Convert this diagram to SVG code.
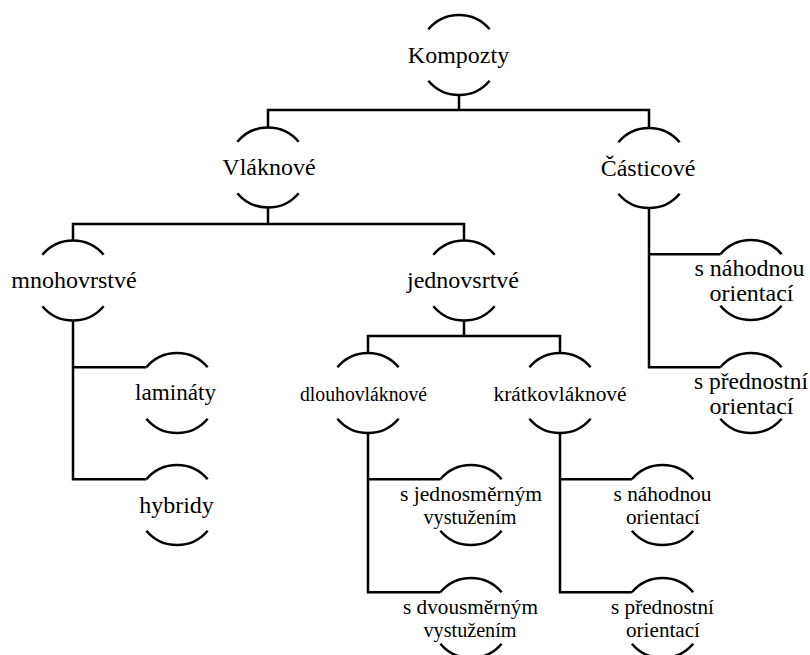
<svg xmlns="http://www.w3.org/2000/svg" width="810" height="655" viewBox="0 0 810 655">
<style>
.arc{fill:none;stroke:#000;stroke-width:2.5}
.con{fill:none;stroke:#000;stroke-width:2.5;stroke-linejoin:miter}
.lbl text{fill:#000;text-anchor:middle;font-family:"Liberation Serif","Times New Roman",serif}
.b{font-size:24px}
.s{font-size:20.5px}
</style>
<defs>
<path id="arcs" d="M-30.64,-25.71 A40,40 0 0 1 30.64,-25.71 M-30.64,25.71 A40,40 0 0 0 30.64,25.71"/>
</defs>
<rect width="810" height="655" fill="#fff"/>
<g id="connectors" class="con">
<path d="M459,95 V110"/>
<path d="M268,127.5 V110 H649 V128.5"/>
<path d="M268,207.5 V224"/>
<path d="M73,240.5 V224 H464 V240.5"/>
<path d="M464,320 V336"/>
<path d="M368,353.5 V336 H560 V353.5"/>
<path d="M73,320 V479.3 H146.4 M73,367.3 H146.4"/>
<path d="M649,208 V367.3 H720.4 M649,254.3 H720.4"/>
<path d="M368,433 V592.3 H440.4 M368,479.3 H440.4"/>
<path d="M560,433 V592.3 H631.9 M560,479.3 H631.9"/>
</g>
<g class="lbl">
<g id="kompozty"><use href="#arcs" class="arc" x="459" y="55"/><text class="b" x="458.5" y="63">Kompozty</text></g>
<g id="vlaknove"><use href="#arcs" class="arc" x="268" y="167.5"/><text class="b" x="269" y="175">Vláknové</text></g>
<g id="casticove"><use href="#arcs" class="arc" x="649" y="168"/><text class="b" x="648" y="175.5">Částicové</text></g>
<g id="mnohovrstve"><use href="#arcs" class="arc" x="73" y="280.5"/><text class="b" x="74" y="287.5">mnohovrstvé</text></g>
<g id="jednovsrtve"><use href="#arcs" class="arc" x="464" y="280.5"/><text class="b" x="463" y="287.5">jednovsrtvé</text></g>
<g id="laminaty"><use href="#arcs" class="arc" x="177" y="393"/><text class="b" x="175.5" y="400" textLength="81" lengthAdjust="spacingAndGlyphs">lamináty</text></g>
<g id="hybridy"><use href="#arcs" class="arc" x="177" y="505"/><text class="b" x="176.5" y="512.5">hybridy</text></g>
<g id="dlouhovlaknove"><use href="#arcs" class="arc" x="368" y="393"/><text class="s" x="363.5" y="400.5" textLength="127" lengthAdjust="spacingAndGlyphs">dlouhovláknové</text></g>
<g id="kratkovlaknove"><use href="#arcs" class="arc" x="560" y="393"/><text class="s" x="560" y="400.5" textLength="133" lengthAdjust="spacingAndGlyphs">krátkovláknové</text></g>
<g id="c-nahodnou"><use href="#arcs" class="arc" x="751" y="280"/><text class="b" x="749.5" y="275.5">s náhodnou</text><text class="b" x="751.5" y="300.5">orientací</text></g>
<g id="c-prednostni"><use href="#arcs" class="arc" x="751" y="393"/><text class="b" x="751" y="388.5" textLength="114" lengthAdjust="spacingAndGlyphs">s přednostní</text><text class="b" x="751.5" y="413.5">orientací</text></g>
<g id="jednosmernym"><use href="#arcs" class="arc" x="471" y="505"/><text class="s" x="471" y="501" textLength="142" lengthAdjust="spacingAndGlyphs">s jednosměrným</text><text class="s" x="470" y="524" textLength="93" lengthAdjust="spacingAndGlyphs">vystužením</text></g>
<g id="dvousmernym"><use href="#arcs" class="arc" x="471" y="618"/><text class="s" x="470.5" y="614" textLength="135" lengthAdjust="spacingAndGlyphs">s dvousměrným</text><text class="s" x="470" y="637" textLength="93" lengthAdjust="spacingAndGlyphs">vystužením</text></g>
<g id="k-nahodnou"><use href="#arcs" class="arc" x="662.5" y="505"/><text class="s" x="662.5" y="501" textLength="98" lengthAdjust="spacingAndGlyphs">s náhodnou</text><text class="s" x="663" y="524" textLength="74" lengthAdjust="spacingAndGlyphs">orientací</text></g>
<g id="k-prednostni"><use href="#arcs" class="arc" x="662.5" y="618"/><text class="s" x="662.5" y="614" textLength="103" lengthAdjust="spacingAndGlyphs">s přednostní</text><text class="s" x="663" y="637" textLength="74" lengthAdjust="spacingAndGlyphs">orientací</text></g>
</g>
</svg>
